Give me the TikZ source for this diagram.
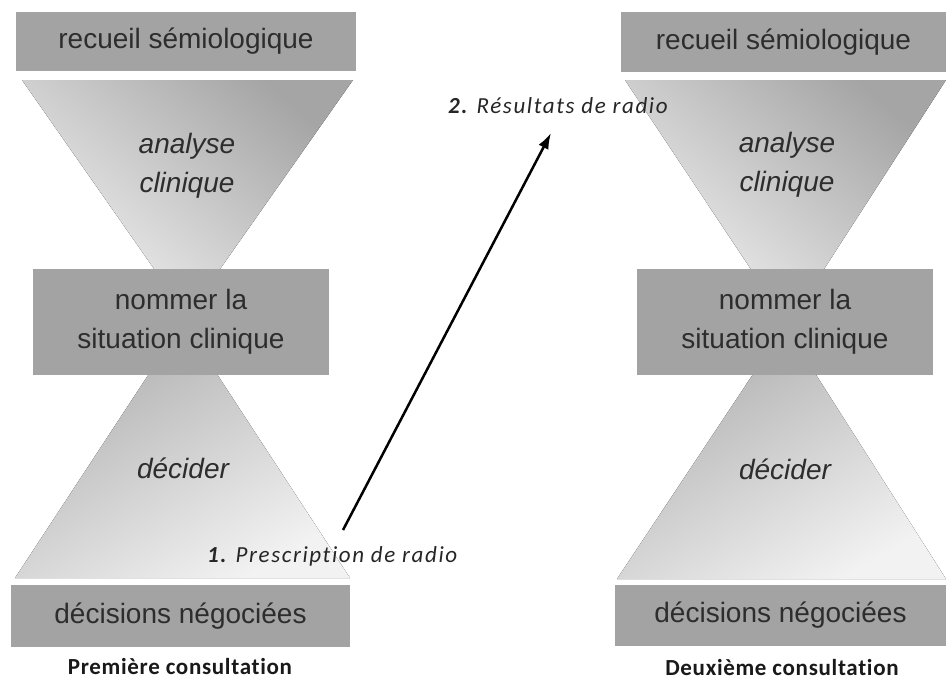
\documentclass[tikz,border=0pt]{standalone}
\usepackage{fontspec}
\setmainfont{Liberation Sans}
\newfontfamily\calfont{Carlito}[Ligatures=NoCommon]
\usetikzlibrary{arrows.meta}
\definecolor{boxgray}{RGB}{163,163,163}
\definecolor{txtgray}{RGB}{45,45,45}
\definecolor{tridark}{RGB}{165,165,165}
\definecolor{trilight}{RGB}{242,242,242}
\tikzset{
  box/.style={fill=boxgray, inner sep=0pt, text=txtgray,
    font=\fontsize{28}{39}\selectfont, align=center},
  trilabel/.style={text=txtgray, font=\fontsize{28}{39}\selectfont\itshape, align=center},
  uptri/.style={top color=tridark, bottom color=trilight, shading angle=-40},
  lowtri/.style={top color=tridark!90, bottom color=trilight, shading angle=30},
  steplabel/.style={text=black!85, font=\calfont\fontsize{23}{27}\selectfont\itshape\addfontfeature{LetterSpace=7}, inner sep=0pt},
  caption/.style={text=black!90, font=\calfont\fontsize{23}{27}\selectfont\bfseries\addfontfeature{LetterSpace=3}, inner sep=0pt},
  arrowline/.style={line width=2.5pt, black, -{Latex[length=16pt,width=11pt]}}
}
\begin{document}
\begin{tikzpicture}[x=1pt,y=-1pt]
\useasboundingbox (0,0) rectangle (946,680);

% ---------- left hourglass ----------
\fill[uptri] (22,80) -- (353,80) -- (187,316) -- cycle;
\fill[lowtri] (15,578) -- (350,578) -- (183,322) -- cycle;
\node[box, minimum width=340pt, minimum height=59pt] (L1) at (186,41.5) {recueil sémiologique};
\node[box, minimum width=296pt, minimum height=106pt] (L2) at (181,322) {nommer la\\situation clinique};
\node[box, minimum width=339pt, minimum height=62pt] (L3) at (180.5,616) {décisions négociées};
\node[trilabel] (La) at (187,166) {analyse\\clinique};
\node[trilabel] (Ld) at (183,468) {décider};
\node[caption, anchor=base] (Lc) at (180,674) {Première consultation};

% ---------- right hourglass ----------
\fill[uptri] (625,80) -- (946,80) -- (788,325) -- cycle;
\fill[lowtri] (617,579) -- (946,579) -- (785,326) -- cycle;
\node[box, minimum width=325pt, minimum height=60pt] (R1) at (783.5,42) {recueil sémiologique};
\node[box, minimum width=296pt, minimum height=106pt] (R2) at (785,322) {nommer la\\situation clinique};
\node[box, minimum width=331pt, minimum height=61pt] (R3) at (780.5,615.5) {décisions négociées};
\node[trilabel] (Ra) at (787,165) {analyse\\clinique};
\node[trilabel] (Rd) at (785,469) {décider};
\node[caption, anchor=base] (Rc) at (782,675) {Deuxième consultation};

% ---------- arrow and step labels ----------
\node[steplabel, anchor=base west] (s1) at (207,562) {\textbf{1.} Prescription de radio};
\node[steplabel, anchor=base west] (s2) at (448,113) {\textbf{2.} Résultats de radio};
\coordinate (a1) at (343,530);
\coordinate (a2) at (551,133);
\draw[arrowline] (a1) -- (a2);
\end{tikzpicture}
\end{document}
